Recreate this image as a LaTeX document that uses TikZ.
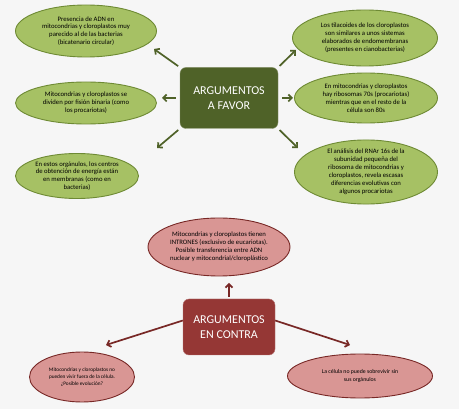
\documentclass[tikz,border=0pt]{standalone}
\usepackage{fontspec}
\setmainfont{Carlito}
\usetikzlibrary{arrows.meta,shapes.geometric}
\definecolor{leafgreen}{RGB}{166,193,100}
\definecolor{leafedge}{RGB}{110,138,52}
\definecolor{darkolive}{RGB}{79,98,40}
\definecolor{rosefill}{RGB}{217,150,148}
\definecolor{roseedge}{RGB}{120,40,38}
\definecolor{darkred}{RGB}{149,55,53}
\definecolor{paper}{RGB}{246,246,246}
\tikzset{
  pro/.style={ellipse,draw=leafedge,fill=leafgreen,line width=0.9pt,inner sep=0pt,
    align=center,font=\fontsize{6.7}{7.9}\selectfont},
  con/.style={ellipse,draw=roseedge,fill=rosefill,line width=0.9pt,inner sep=0pt,
    align=center,font=\fontsize{6.7}{7.9}\selectfont},
  head/.style={rectangle,rounded corners=6pt,text=white,align=center,
    font=\fontsize{12}{14.5}\selectfont},
  proarr/.style={-{Straight Barb[length=3.5pt,width=7pt]},line width=1.7pt,draw=darkolive},
  conarr/.style={-{Straight Barb[length=3.5pt,width=7pt]},line width=1.7pt,draw=roseedge}
}
\begin{document}
\begin{tikzpicture}[x=1pt,y=-1pt]
  \fill[paper] (0,0) rectangle (459,409);
  \useasboundingbox (0,0) rectangle (459,409);

  % argumentos a favor
  \node[head,fill=darkolive,draw=darkolive!70,minimum width=98pt,minimum height=61pt]
    (favor) at (229,98) {ARGUMENTOS\\A FAVOR};
  \node[pro,minimum width=141pt,minimum height=52pt] (adn) at (86,31)
    {Presencia de ADN en\\mitocondrias y cloroplastos muy\\parecido al de las bacterias\\(bicatenario circular)};
  \node[pro,minimum width=145pt,minimum height=56pt] (tilac) at (365,38)
    {Los tilacoides de los cloroplastos\\son similares a unos sistemas\\elaborados de endomembranas\\(presentes en cianobacterias)};
  \node[pro,minimum width=141pt,minimum height=42pt] (fision) at (86,103)
    {Mitocondrias y cloroplastos se\\dividen por fisión binaria (como\\los procariotas)};
  \node[pro,minimum width=143pt,minimum height=50pt] (ribo) at (366,98)
    {En mitocondrias y cloroplastos\\hay ribosomas 70s (procariotas)\\mientras que en el resto de la\\célula son 80s};
  \node[pro,minimum width=123pt,minimum height=45pt] (membr) at (77,176)
    {En estos orgánulos, los centros\\de obtención de energía están\\en membranas (como en\\bacterias)};
  \node[pro,minimum width=143pt,minimum height=63pt] (rnar) at (366,172)
    {El análisis del RNAr 16s de la\\subunidad pequeña del\\ribosoma de mitocondrias y\\cloroplastos, revela escasas\\diferencias evolutivas con\\algunos procariotas};

  \coordinate (tadn) at (154,49);
  \coordinate (ttilac) at (296,50);
  \coordinate (tfision) at (162,98);
  \coordinate (tribo) at (293,98);
  \coordinate (tmembr) at (157,148);
  \coordinate (trnar) at (298,148);
  \draw[proarr,shorten <=2pt] (favor.north west) -- (tadn);
  \draw[proarr,shorten <=2pt] (favor.north east) -- (ttilac);
  \draw[proarr,shorten <=4pt] (favor.west) -- (tfision);
  \draw[proarr,shorten <=4pt] (favor.east) -- (tribo);
  \draw[proarr,shorten <=2pt] (favor.south west) -- (tmembr);
  \draw[proarr,shorten <=2pt] (favor.south east) -- (trnar);

  % argumentos en contra
  \node[head,fill=darkred,draw=darkred!70,minimum width=92pt,minimum height=56pt]
    (contra) at (229,327) {ARGUMENTOS\\EN CONTRA};
  \node[con,minimum width=142pt,minimum height=58pt] (intron) at (219,247)
    {Mitocondrias y cloroplastos tienen\\INTRONES (exclusivo de eucariotas).\\Posible transferencia entre ADN\\nuclear y mitocondrial/cloroplástico};
  \node[con,font=\fontsize{5.3}{7.2}\selectfont,minimum width=105pt,minimum height=50pt]
    (vivir) at (82,377)
    {Mitocondrias y cloroplastos no\\pueden vivir fuera de la célula.\\¿Posible evolución?};
  \node[con,font=\fontsize{5.8}{7.6}\selectfont,minimum width=145pt,minimum height=44pt]
    (sobre) at (360,376)
    {La célula no puede sobrevivir sin\\sus orgánulos};

  \coordinate (tintron) at (229,283);
  \coordinate (tvivir) at (106,345);
  \coordinate (tsobre) at (350,345);
  \draw[conarr,shorten <=2pt] (contra.north) -- (tintron);
  \draw[conarr] (contra.172) -- (tvivir);
  \draw[conarr] (contra.8) -- (tsobre);
\end{tikzpicture}
\end{document}
